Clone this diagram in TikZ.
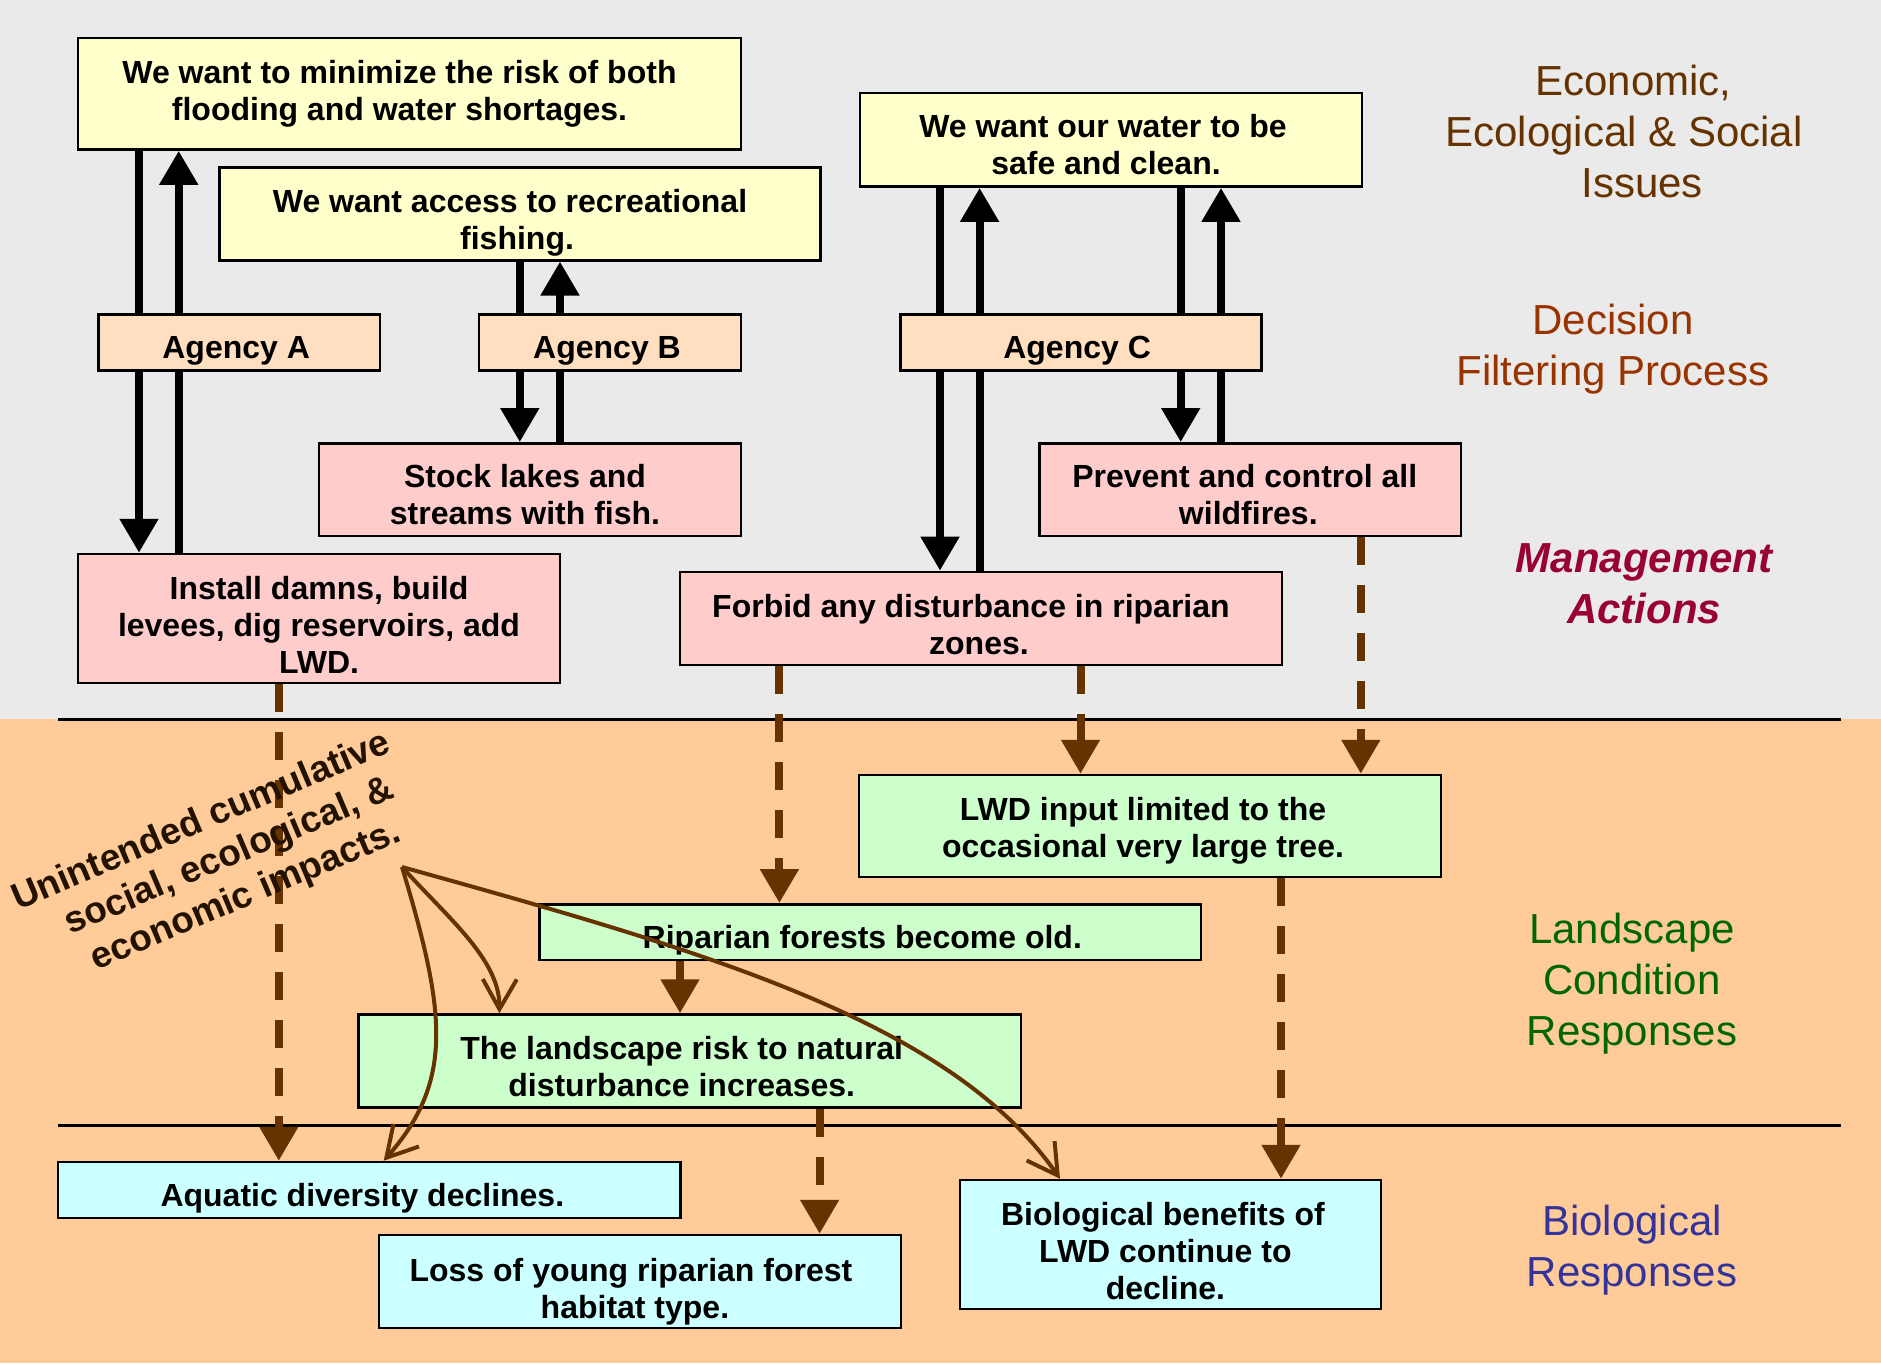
\documentclass[tikz,border=0pt]{standalone}
\usepackage{fontspec}
\setmainfont{Liberation Sans}
\usetikzlibrary{arrows.meta,calc}
\definecolor{bggray}{HTML}{EAEAEA}
\definecolor{bgorange}{HTML}{FFCC99}
\definecolor{byellow}{HTML}{FFFFCC}
\definecolor{bpeach}{HTML}{FFDFC0}
\definecolor{bpink}{HTML}{FFCCCC}
\definecolor{bgreen}{HTML}{CCFFCC}
\definecolor{bcyan}{HTML}{CCFFFF}
\definecolor{brn}{HTML}{663300}
\definecolor{lblA}{HTML}{663300}
\definecolor{lblB}{HTML}{993300}
\definecolor{lblC}{HTML}{990033}
\definecolor{lblD}{HTML}{006600}
\definecolor{lblE}{HTML}{333399}
\definecolor{imptxt}{HTML}{241200}
% box: name, fill, x1, y1, x2, y2, text, text dx, text dy (down)
\newcommand{\bx}[9]{%
  \node[boxshape,fill=#2,minimum width={(#5-#3)*1pt},minimum height={(#6-#4)*1pt}] (#1) at ({(#3+#5)/2},{(#4+#6)/2}) {};
  \node[boxtext] (#1-t) at ([xshift=#8pt,yshift=-#9pt]#1.center) {#7};}
\newcommand{\tr}[1]{\hspace*{#1pt}}
\begin{document}
\begin{tikzpicture}[x=1pt,y=-1pt,
  boxshape/.style={draw=black,line width=2.5pt,inner sep=0pt},
  boxtext/.style={inner sep=0pt,align=center,font=\bfseries\fontsize{32}{37}\selectfont},
  blkline/.style={line width=8pt,black},
  blkarr/.style={line width=8pt,black,-{Triangle[length=34pt,width=37pt]}},
  brndash/.style={line width=8pt,brn,dash pattern=on 28pt off 20pt,-{Triangle[length=34pt,width=37pt]}},
  brnsolid/.style={line width=8pt,brn,-{Triangle[length=34pt,width=37pt]}},
  brncurve/.style={line width=4pt,brn,-{Straight Barb[length=30pt,width=34pt]}},
  seprule/.style={line width=3pt,black},
  lbl/.style={align=center,font=\fontsize{42}{51}\selectfont}]
\useasboundingbox (0,0) rectangle (1881,1363);
\fill[bggray] (0,0) rectangle (1881,719);
\fill[bgorange] (0,719) rectangle (1881,1363);
\draw[seprule] (58,719) -- (1841,719);
\draw[seprule] (58,1125) -- (1841,1125);
% boxes
\bx{b1}{byellow}{78}{38}{741}{149.6}{We want to minimize the risk of both\\flooding and water shortages.}{-10}{0}
\bx{b2}{byellow}{219.4}{167.4}{820.7}{260.3}{We want access to recreational\tr{14}\\fishing.}{-3}{9}
\bx{b3}{byellow}{860}{92.9}{1362}{186.6}{We want our water to be\tr{6}\\safe and clean.}{-5}{5}
\bx{agA}{bpeach}{98.3}{314.7}{380}{370.5}{Agency A}{-3}{8}
\bx{agB}{bpeach}{479}{314.7}{741}{370.5}{Agency B}{-3}{8}
\bx{agC}{bpeach}{900.5}{314.7}{1261.7}{370.5}{Agency C}{-4}{8}
\bx{stock}{bpink}{319}{443.3}{741}{536.2}{Stock lakes and\\streams with fish.}{-5}{5}
\bx{prev}{bpink}{1039.6}{443.3}{1461}{536.2}{Prevent and control all\tr{7}\\wildfires.}{-2}{5}
\bx{inst}{bpink}{78}{554}{560}{683}{Install damns, build\\levees, dig reservoirs, add\tr{13}\\LWD.}{0}{6}
\bx{forbid}{bpink}{679.9}{571.9}{1282}{665.2}{Forbid any disturbance in riparian\tr{16}\\zones.}{-2}{6}
\bx{lwd}{bgreen}{859}{775}{1441}{876.9}{LWD input limited to the\\occasional very large tree.}{-7}{5}
\bx{rip}{bgreen}{539.6}{904.3}{1201}{960}{Riparian forests become old.}{-8}{8}
\bx{land}{bgreen}{358.5}{1014.5}{1021}{1107.7}{The landscape risk to natural\\disturbance increases.}{-8}{5}
\bx{aqu}{bcyan}{58.2}{1162}{680.5}{1217.9}{Aquatic diversity declines.}{-7}{8}
\bx{loss}{bcyan}{378.9}{1235}{901}{1328}{Loss of young riparian forest\tr{8}\\habitat type.}{-5}{10}
\bx{bio}{bcyan}{959.8}{1180}{1381}{1309}{Biological benefits of\tr{5}\\LWD continue to\\decline.}{-5}{7}
% x positions of connectors
\coordinate (xa1) at (139,0);
\coordinate (xa2) at (178.7,0);
\coordinate (xb1) at (519.8,0);
\coordinate (xb2) at (560,0);
\coordinate (xc1) at (940,0);
\coordinate (xc2) at (979.6,0);
\coordinate (xc3) at (1180.7,0);
\coordinate (xc4) at (1221,0);
\coordinate (xd1) at (278.8,0);
\coordinate (xd2) at (779.4,0);
\coordinate (xd3) at (1080.5,0);
\coordinate (xd4) at (1360.8,0);
\coordinate (xd5) at (1281,0);
\coordinate (xd6) at (680,0);
\coordinate (xd7) at (819.6,0);
% black arrows
\draw[blkline] (b1.south -| xa1) -- (agA.north -| xa1);
\draw[blkarr] (agA.south -| xa1) -- (inst.north -| xa1);
\draw[blkline] (inst.north -| xa2) -- (agA.south -| xa2);
\draw[blkarr] (agA.north -| xa2) -- (b1.south -| xa2);
\draw[blkline] (b2.south -| xb1) -- (agB.north -| xb1);
\draw[blkarr] (agB.south -| xb1) -- (stock.north -| xb1);
\draw[blkline] (stock.north -| xb2) -- (agB.south -| xb2);
\draw[blkarr] (agB.north -| xb2) -- (b2.south -| xb2);
\draw[blkline] (b3.south -| xc1) -- (agC.north -| xc1);
\draw[blkarr] (agC.south -| xc1) -- (forbid.north -| xc1);
\draw[blkline] (forbid.north -| xc2) -- (agC.south -| xc2);
\draw[blkarr] (agC.north -| xc2) -- (b3.south -| xc2);
\draw[blkline] (b3.south -| xc3) -- (agC.north -| xc3);
\draw[blkarr] (agC.south -| xc3) -- (prev.north -| xc3);
\draw[blkline] (prev.north -| xc4) -- (agC.south -| xc4);
\draw[blkarr] (agC.north -| xc4) -- (b3.south -| xc4);
% brown arrows
\draw[brndash] (inst.south -| xd1) -- (aqu.north -| xd1);
\draw[brndash] (forbid.south -| xd2) -- (rip.north -| xd2);
\draw[brndash] (forbid.south -| xd3) -- (lwd.north -| xd3);
\draw[brndash] (prev.south -| xd4) -- (lwd.north -| xd4);
\draw[brndash] (lwd.south -| xd5) -- (bio.north -| xd5);
\draw[brnsolid] (rip.south -| xd6) -- (land.north -| xd6);
\draw[brndash] (land.south -| xd7) -- (loss.north -| xd7);
% impacts text
\node[rotate=23,align=center,text=imptxt,font=\bfseries\fontsize{37}{43}\selectfont] (imp) at (229.5,857) {Unintended cumulative\tr{24}\\social, ecological, \&\tr{12}\\economic impacts.};
\coordinate (src) at (402,867);
\coordinate (e1) at (383.7,0);
\coordinate (e2) at (499.4,0);
\coordinate (e3) at (1060,0);
\draw[brncurve] (src) .. controls (445,1010) and (455,1080) .. (aqu.north -| e1);
\draw[brncurve] (src) .. controls (450,920) and (500,960) .. (land.north -| e2);
\draw[brncurve] (src) .. controls (700,950) and (950,1020) .. (bio.north -| e3);
% right labels
\node[lbl,text=lblA] (lab1) at (1624,131.7) {\tr{19}Economic,\\Ecological \& Social\\\tr{36}Issues};
\node[lbl,text=lblB] (lab2) at (1613,349) {Decision\\Filtering Process};
\node[lbl,text=lblC,font=\bfseries\itshape\fontsize{42}{51}\selectfont] (lab3) at (1644,583.5) {Management\\Actions};
\node[lbl,text=lblD] (lab4) at (1632,983.5) {Landscape\\Condition\\Responses};
\node[lbl,text=lblE] (lab5) at (1632,1250.5) {Biological\\Responses};
\end{tikzpicture}
\end{document}
